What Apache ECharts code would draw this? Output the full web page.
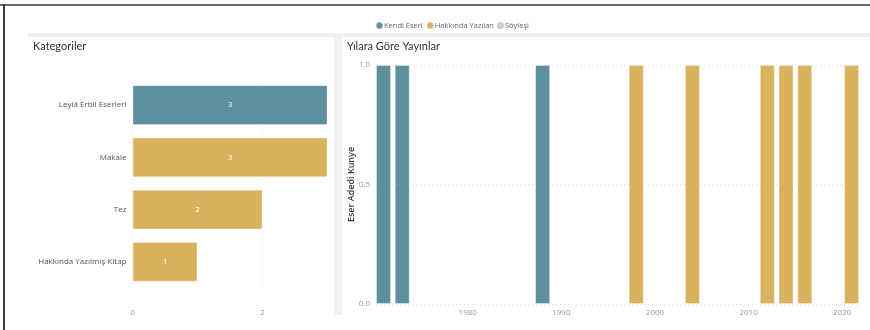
<!DOCTYPE html>
<html>
<head>
<meta charset="utf-8">
<script src="https://cdn.jsdelivr.net/npm/echarts@6/dist/echarts.min.js"></script>
<style>
  html, body { margin: 0; padding: 0; background: #fff; }
  #chart { width: 870px; height: 330px; }
</style>
</head>
<body>
<div id="chart"></div>
<script>
// Category totals
const categories = ['Leylâ Erbil Eserleri', 'Makale', 'Tez', 'Hakkında Yazılmış Kitap'];
const categoryValues = [3, 3, 2, 1];
const categoryType = ['Kendi Eseri', 'Hakkında Yazılan', 'Hakkında Yazılan', 'Hakkında Yazılan'];

// Publications per year, by type
const kendiYears = [1971, 1973, 1988];
const kendiCounts = [1, 1, 1];
const hakkindaYears = [1998, 2004, 2012, 2014, 2016, 2021];
const hakkindaCounts = [1, 1, 1, 1, 1, 1];
const soylesiYears = [];
const soylesiCounts = [];

const yearTicks = [1980, 1990, 2000, 2010, 2020];
const countTicks = [0, 2];

const COLORS = {
  'Kendi Eseri': '#5E8F9C',
  'Hakkında Yazılan': '#D9B25E',
  'Söyleşi': '#CFCFCF'
};

const LABEL_FONT = '"Open Sans", "Noto Sans", sans-serif';
const TITLE_FONT = 'Lato, "Open Sans", sans-serif';

function pairs(xs, ys) { return xs.map((x, i) => [x, ys[i]]); }

const chart = echarts.init(document.getElementById('chart'), null, { renderer: 'canvas' });

chart.setOption({
  animation: false,
  backgroundColor: '#ffffff',
  graphic: [
    // page frame
    { type: 'rect', shape: { x: 0, y: 4, width: 870, height: 2 }, style: { fill: '#6a6a6a' }, silent: true },
    { type: 'rect', shape: { x: 3, y: 4, width: 2, height: 326 }, style: { fill: '#3a3a3a' }, silent: true },
    // panel separators
    { type: 'rect', shape: { x: 28, y: 33, width: 842, height: 4 }, style: { fill: '#f1f1f1' }, silent: true },
    { type: 'rect', shape: { x: 334, y: 33, width: 8, height: 282 }, style: { fill: '#f1f1f1' }, silent: true }
  ],
  title: [
    { text: 'Kategoriler', left: 28, top: 36, textStyle: { fontFamily: TITLE_FONT, fontSize: 11, fontWeight: 'normal', color: '#333' } },
    { text: 'Yılara Göre Yayınlar', left: 342, top: 36, textStyle: { fontFamily: TITLE_FONT, fontSize: 11, fontWeight: 'normal', color: '#333' } }
  ],
  legend: {
    top: 16,
    left: 370,
    icon: 'circle',
    itemWidth: 7,
    itemHeight: 7,
    itemGap: 3,
    textStyle: { fontFamily: LABEL_FONT, fontSize: 7.5, color: '#666', padding: [0, 0, 0, -4] },
    data: ['Kendi Eseri', 'Hakkında Yazılan', 'Söyleşi']
  },
  grid: [
    { left: 132.5, right: 542.5, top: 79, bottom: 42 },
    { left: 376, right: 10, top: 65, bottom: 26 }
  ],
  xAxis: [
    {
      gridIndex: 0,
      type: 'value',
      min: 0,
      max: 3,
      interval: 2,
      axisLine: { show: false },
      axisTick: { show: false, customValues: countTicks },
      axisLabel: { customValues: countTicks, color: '#999', fontSize: 8, fontFamily: LABEL_FONT, margin: 21 },
      splitLine: { show: true, lineStyle: { color: '#e4e4e4', type: [1, 3] } }
    },
    {
      gridIndex: 1,
      type: 'value',
      min: 1970.2,
      max: 2021.9,
      axisLine: { show: false },
      axisTick: { show: false, customValues: yearTicks },
      axisLabel: { customValues: yearTicks, color: '#999', fontSize: 8, fontFamily: LABEL_FONT, margin: 5, formatter: v => String(v) },
      splitLine: { show: false }
    }
  ],
  yAxis: [
    {
      gridIndex: 0,
      type: 'category',
      inverse: true,
      data: categories,
      axisLine: { show: false },
      axisTick: { show: false },
      axisLabel: { color: '#555', fontSize: 8, fontFamily: LABEL_FONT, margin: 6 }
    },
    {
      gridIndex: 1,
      type: 'value',
      min: 0,
      max: 1,
      interval: 0.5,
      name: 'Eser Adedi Kunye',
      nameLocation: 'middle',
      nameGap: 20,
      nameMoveOverlap: false,
      nameTextStyle: { color: '#3a3a3a', fontSize: 9, fontFamily: LABEL_FONT, fontWeight: 600 },
      axisLine: { show: false },
      axisTick: { show: false },
      axisLabel: { color: '#999', fontSize: 8, fontFamily: LABEL_FONT, margin: 6, formatter: v => v.toFixed(1) },
      splitLine: { show: true, lineStyle: { color: '#dcdcdc', type: [1, 3] } }
    }
  ],
  series: [
    {
      name: 'Kategori',
      type: 'bar',
      xAxisIndex: 0,
      yAxisIndex: 0,
      barCategoryGap: '23.5%',
      data: categoryValues.map((v, i) => ({
        value: v,
        itemStyle: { color: COLORS[categoryType[i]], borderColor: 'rgba(255,255,255,0.35)', borderWidth: 1 }
      })),
      label: { show: true, position: 'inside', color: '#fff', fontSize: 8, fontFamily: LABEL_FONT },
      silent: true
    },
    {
      name: 'Kendi Eseri',
      type: 'bar',
      xAxisIndex: 1,
      yAxisIndex: 1,
      barWidth: 15,
      barGap: '-100%',
      itemStyle: { color: COLORS['Kendi Eseri'], borderColor: 'rgba(255,255,255,0.35)', borderWidth: 1 },
      data: pairs(kendiYears, kendiCounts)
    },
    {
      name: 'Hakkında Yazılan',
      type: 'bar',
      xAxisIndex: 1,
      yAxisIndex: 1,
      barWidth: 15,
      barGap: '-100%',
      itemStyle: { color: COLORS['Hakkında Yazılan'], borderColor: 'rgba(255,255,255,0.35)', borderWidth: 1 },
      data: pairs(hakkindaYears, hakkindaCounts)
    },
    {
      name: 'Söyleşi',
      type: 'bar',
      xAxisIndex: 1,
      yAxisIndex: 1,
      barWidth: 15,
      barGap: '-100%',
      itemStyle: { color: COLORS['Söyleşi'] },
      data: pairs(soylesiYears, soylesiCounts)
    }
  ]
});
</script>
</body>
</html>
